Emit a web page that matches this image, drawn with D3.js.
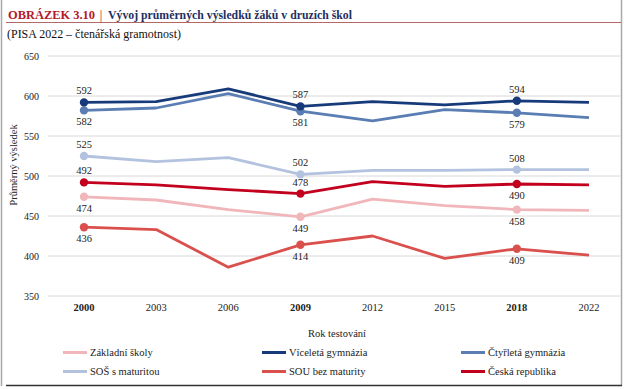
<!DOCTYPE html>
<html><head><meta charset="utf-8">
<script src="https://cdn.jsdelivr.net/npm/d3@7"></script>
<style>body{margin:0;background:#fff}text{font-family:"Liberation Serif","Times New Roman",serif}</style>
</head><body><svg id="c" width="624" height="389" font-family="Liberation Serif, serif"></svg>
<script>
const years = ["2000","2003","2006","2009","2012","2015","2018","2022"];
const boldYears = ["2000","2009","2018"];
const yTicks = [350,400,450,500,550,600,650];
const seriesNames = ["Základní školy","Víceletá gymnázia","Čtyřletá gymnázia","SOŠ s maturitou","SOU bez maturity","Česká republika"];
const zakladni = [474,470,458,449,471,463,458,457];
const vicelata = [592,593,609,587,593,589,594,592];
const ctyrleta = [582,585,603,581,569,583,579,573];
const sos = [525,518,523,502,507,507,508,508];
const sou = [436,433,386,414,425,397,409,401];
const cr = [492,489,483,478,493,487,490,489];
const colors = ["#f0b6ba","#173b7a","#5a7db3","#b3c2de","#d9504d","#c2001e"];
const labelPos = ["below","above","below","above","below","above"];
const crLabelPos = {"2000":"above","2009":"above","2018":"below"};

const data = [zakladni,vicelata,ctyrleta,sos,sou,cr];
const svg = d3.select("#c");

// frame
svg.append("line").attr("x1",1.5).attr("x2",1.5).attr("y1",0).attr("y2",386).attr("stroke","#a8a8a8").attr("stroke-width",1.5);
svg.append("line").attr("x1",621.5).attr("x2",621.5).attr("y1",0).attr("y2",386).attr("stroke","#a8a8a8").attr("stroke-width",1.5);
svg.append("line").attr("x1",6).attr("x2",622).attr("y1",385.5).attr("y2",385.5).attr("stroke","#333").attr("stroke-width",1.5);
svg.append("line").attr("x1",6).attr("x2",621).attr("y1",22.5).attr("y2",22.5).attr("stroke","#a0413f").attr("stroke-width",0.8);

// title
const tf = 12.5;
svg.append("text").attr("x",8).attr("y",19).attr("font-size",tf).attr("font-weight","bold").attr("fill","#b5182b")
  .attr("textLength",87).attr("lengthAdjust","spacingAndGlyphs").text("OBRÁZEK 3.10");
svg.append("text").attr("x",101).attr("y",19).attr("font-size",tf).attr("text-anchor","middle").attr("fill","#b5182b").text("|");
svg.append("text").attr("x",108).attr("y",19).attr("font-size",tf).attr("font-weight","bold").attr("fill","#1d2f5f")
  .attr("textLength",244).attr("lengthAdjust","spacingAndGlyphs").text("Vývoj průměrných výsledků žáků v druzích škol");
svg.append("text").attr("x",7).attr("y",38).attr("font-size",11.5).attr("fill","#111")
  .attr("textLength",174).attr("lengthAdjust","spacingAndGlyphs").text("(PISA 2022 – čtenářská gramotnost)");

const x = d3.scalePoint().domain(years).range([84,589]);
const y = d3.scaleLinear().domain([350,650]).range([296,56]);

// grid
svg.append("g").selectAll("line").data(yTicks).join("line")
  .attr("x1",48).attr("x2",620).attr("y1",d=>y(d)).attr("y2",d=>y(d))
  .attr("stroke","#d8d8d8").attr("stroke-width",1);

// y axis labels
svg.append("g").selectAll("text").data(yTicks).join("text")
  .attr("x",39).attr("y",d=>y(d)+3.5).attr("text-anchor","end").attr("font-size",10).attr("fill","#222").text(d=>d);

// x axis labels
svg.append("g").selectAll("text").data(years).join("text")
  .attr("x",d=>x(d)).attr("y",311).attr("text-anchor","middle").attr("font-size",10.5).attr("fill","#222")
  .attr("font-weight",d=>boldYears.includes(d)?"bold":"normal").text(d=>d);

svg.append("text").attr("x",337).attr("y",337).attr("text-anchor","middle").attr("font-size",10.5).attr("fill","#222").text("Rok testování");
svg.append("text").attr("transform","translate(17,165) rotate(-90)").attr("text-anchor","middle").attr("font-size",10.5).attr("fill","#222").text("Průměrný výsledek");

const line = d3.line().x((d,i)=>x(years[i])).y(d=>y(d));
const order = [3,0,4,2,1,5];
order.forEach(s=>{
  svg.append("path").datum(data[s]).attr("d",line).attr("fill","none").attr("stroke",colors[s]).attr("stroke-width",2.8).attr("stroke-linejoin","round");
});
order.forEach(s=>{
  const pts = years.map((yr,i)=>({yr,v:data[s][i]})).filter(p=>boldYears.includes(p.yr));
  svg.append("g").selectAll("circle").data(pts).join("circle")
    .attr("cx",p=>x(p.yr)).attr("cy",p=>y(p.v)).attr("r",4.2).attr("fill",colors[s]);
  svg.append("g").selectAll("text").data(pts).join("text")
    .attr("x",p=>x(p.yr))
    .attr("y",p=>{const pos = s===5?crLabelPos[p.yr]:labelPos[s]; return pos==="above"?y(p.v)-8:y(p.v)+15;})
    .attr("text-anchor","middle").attr("font-size",10.5).attr("fill","#222").text(p=>p.v);
});

// legend
const legX = [63,262,461];
seriesNames.forEach((n,i)=>{
  const lx = legX[i%3], ly = i<3?352.5:371.5;
  svg.append("line").attr("x1",lx).attr("x2",lx+24).attr("y1",ly).attr("y2",ly).attr("stroke",colors[i]).attr("stroke-width",3);
  svg.append("text").attr("x",lx+27).attr("y",ly+3.5).attr("font-size",10.5).attr("fill","#222").text(n);
});
</script></body></html>
